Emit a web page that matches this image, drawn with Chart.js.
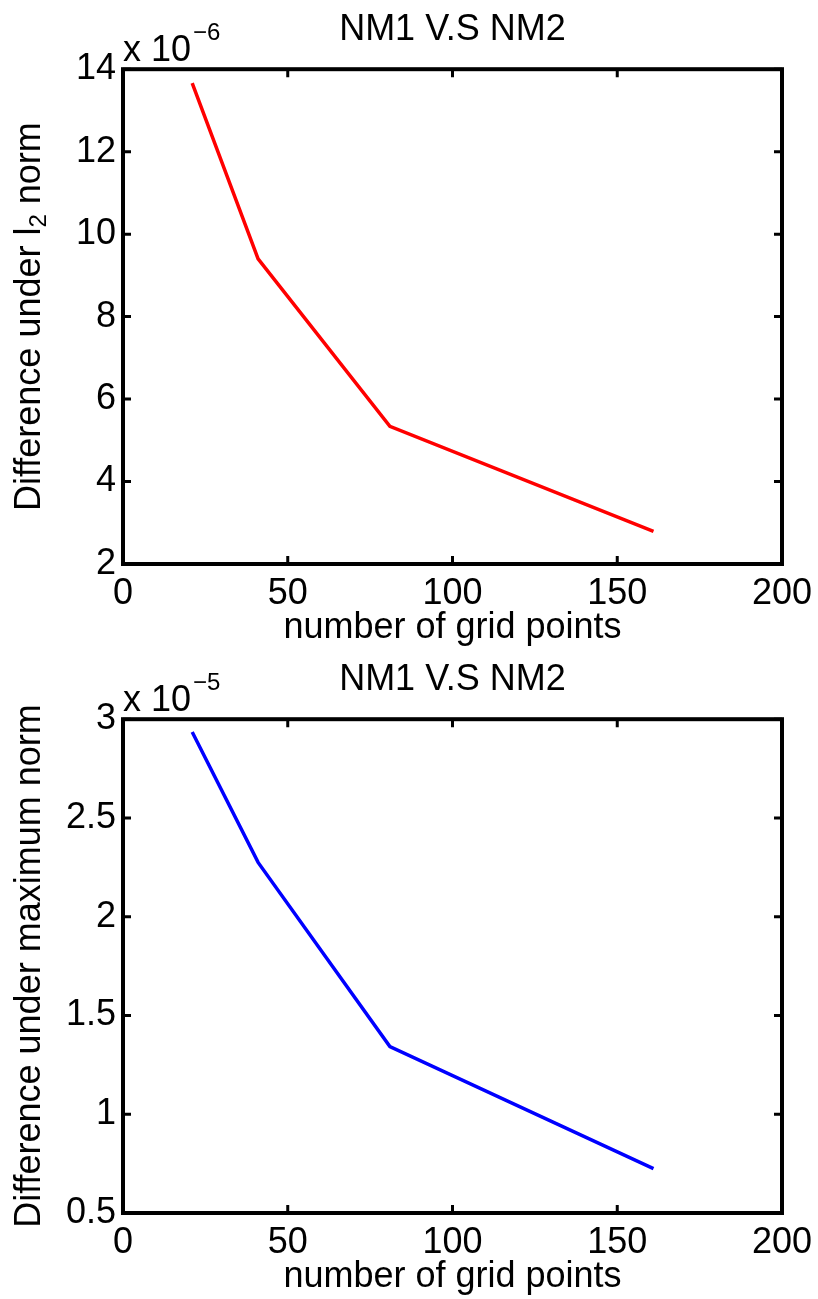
<!DOCTYPE html>
<html>
<head>
<meta charset="utf-8">
<script src="https://cdn.jsdelivr.net/npm/chart.js@4.4.0/dist/chart.umd.min.js"></script>
<style>
  html, body { margin: 0; padding: 0; background: #ffffff; }
  canvas { display: block; }
</style>
</head>
<body>
<canvas id="c1" width="818" height="650"></canvas>
<canvas id="c2" width="818" height="649"></canvas>
<script>
// ---- data ----
const gridPoints = [21, 41, 81, 161];
const l2Diff = [13.66, 9.40, 5.34, 2.79];        // scaled by 10^-6
const maxDiff = [2.935, 2.275, 1.343, 0.725];    // scaled by 10^-5
const xTicks = [0, 50, 100, 150, 200];
const yTicksTop = [2, 4, 6, 8, 10, 12, 14];
const yTicksBottom = [0.5, 1, 1.5, 2, 2.5, 3];
const titleText = 'NM1 V.S NM2';
const xLabel = 'number of grid points';
// y label pieces: [text, isSubscript]
const yLabelTop = [['Difference under l', false], ['2', true], [' norm', false]];
const yLabelBottom = [['Difference under maximum norm', false]];
const exponentTop = '\u22126';
const exponentBottom = '\u22125';

const FONT_FAMILY = '"Liberation Sans", Arial, Helvetica, sans-serif';
const mainFont = { family: FONT_FAMILY, size: 36, weight: 'normal' };

const boxPlugin = {
  id: 'matlabBox',
  afterDraw(chart, args, opts) {
    const { ctx, chartArea: a, scales } = chart;
    const xs = scales.x, ys = scales.y;
    const L = 8;
    ctx.save();
    ctx.strokeStyle = '#000';
    ctx.lineCap = 'butt';
    ctx.lineWidth = 3;
    ctx.beginPath();
    xs.ticks.forEach(t => {
      const px = xs.getPixelForValue(t.value);
      ctx.moveTo(px, a.bottom); ctx.lineTo(px, a.bottom - L);
      ctx.moveTo(px, a.top); ctx.lineTo(px, a.top + L);
    });
    ys.ticks.forEach(t => {
      const py = ys.getPixelForValue(t.value);
      ctx.moveTo(a.left, py); ctx.lineTo(a.left + L, py);
      ctx.moveTo(a.right, py); ctx.lineTo(a.right - L, py);
    });
    ctx.stroke();
    ctx.lineWidth = 4;
    ctx.strokeRect(a.left, a.top, a.right - a.left, a.bottom - a.top);

    // exponent label
    ctx.fillStyle = '#000';
    ctx.textAlign = 'left';
    ctx.textBaseline = 'alphabetic';
    ctx.font = '36px ' + FONT_FAMILY;
    const base = 'x 10';
    ctx.fillText(base, a.left, a.top - 8);
    const w = ctx.measureText(base).width;
    ctx.font = '24px ' + FONT_FAMILY;
    ctx.fillText(opts.exp, a.left + w + 2, a.top - 29);

    // y-axis label (rotated, with optional subscript)
    const parts = opts.yLabel;
    const fontFor = sub => (sub ? '24px ' : '36px ') + FONT_FAMILY;
    let total = 0;
    const widths = parts.map(([t, sub]) => { ctx.font = fontFor(sub); const ww = ctx.measureText(t).width; total += ww; return ww; });
    const cx = 30, cy = (a.top + a.bottom) / 2;
    ctx.translate(cx, cy);
    ctx.rotate(-Math.PI / 2);
    ctx.textBaseline = 'middle';
    let pos = -total / 2;
    parts.forEach(([t, sub], i) => {
      ctx.font = fontFor(sub);
      ctx.fillText(t, pos, sub ? 9 : 0);
      pos += widths[i];
    });
    ctx.restore();
  }
};

function makeChart(id, values, color, yTicks, yMin, yMax, yLabel, exp) {
  return new Chart(document.getElementById(id), {
    type: 'line',
    data: {
      datasets: [{
        data: gridPoints.map((g, i) => ({ x: g, y: values[i] })),
        borderColor: color,
        borderWidth: 3.5,
        pointRadius: 0,
        fill: false,
        tension: 0
      }]
    },
    options: {
      responsive: false,
      devicePixelRatio: 1,
      animation: false,
      layout: { padding: { left: 0, right: 36, top: 0, bottom: 0 } },
      plugins: {
        legend: { display: false },
        tooltip: { enabled: false },
        title: {
          display: true,
          text: titleText,
          fullSize: false,
          color: '#000',
          font: mainFont,
          padding: { top: 8, bottom: 18 }
        },
        matlabBox: { exp: exp, yLabel: yLabel }
      },
      scales: {
        x: {
          type: 'linear',
          min: 0, max: 200,
          afterBuildTicks: s => { s.ticks = xTicks.map(v => ({ value: v })); },
          afterFit: s => { s.height = 86; s.paddingLeft = 0; s.paddingRight = 0; },
          ticks: { color: '#000', font: mainFont, padding: 8, maxRotation: 0, autoSkip: false },
          grid: { display: false, drawTicks: false },
          border: { display: false },
          title: { display: true, text: xLabel, color: '#000', font: mainFont, padding: { top: 0, bottom: 0 } }
        },
        y: {
          type: 'linear',
          min: yMin, max: yMax,
          afterBuildTicks: s => { s.ticks = yTicks.map(v => ({ value: v })); },
          afterFit: s => { s.width = 123; s.paddingTop = 0; s.paddingBottom = 0; },
          ticks: { color: '#000', font: mainFont, padding: 7, callback: v => String(v) },
          grid: { display: false, drawTicks: false },
          border: { display: false },
          title: { display: false }
        }
      }
    },
    plugins: [boxPlugin]
  });
}

makeChart('c1', l2Diff, '#ff0000', yTicksTop, 2, 14, yLabelTop, exponentTop);
makeChart('c2', maxDiff, '#0000ff', yTicksBottom, 0.5, 3, yLabelBottom, exponentBottom);
</script>
</body>
</html>
